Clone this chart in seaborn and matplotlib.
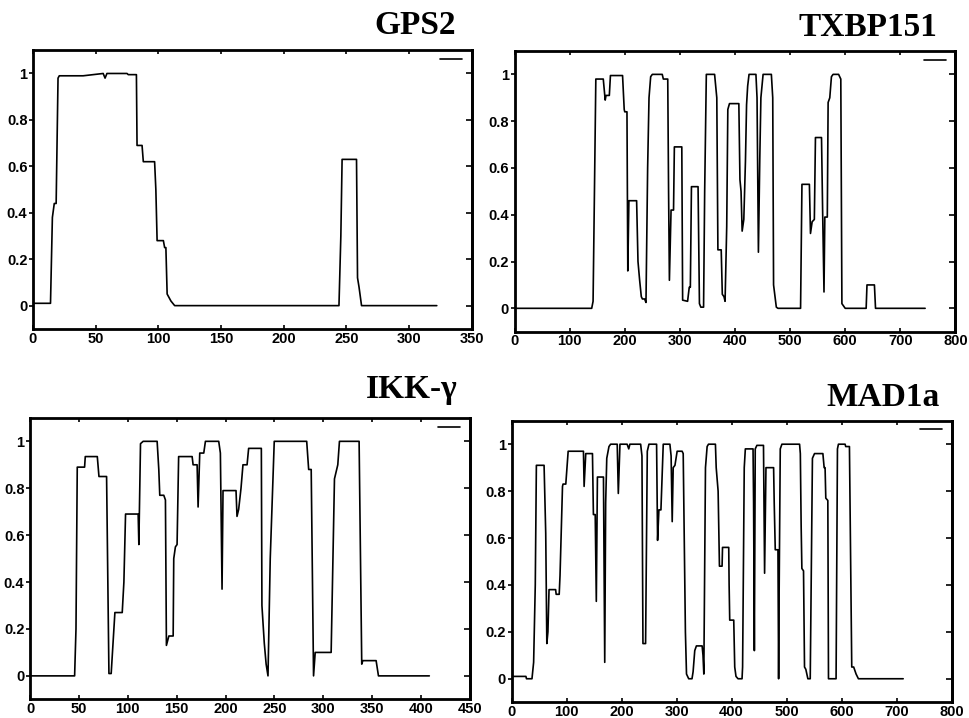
import matplotlib
matplotlib.use("Agg")
import matplotlib.pyplot as plt
import seaborn as sns
import pandas as pd

# coiled-coil probability traces, (residue, probability) vertices
gps2 = [(0, 0.01), (14, 0.01), (15.5, 0.38), (17, 0.44), (18.5, 0.44), (20, 0.98), (21, 0.99),
        (40, 0.99), (56, 1.0), (57.5, 0.98), (59, 1.0), (75, 1.0), (76, 0.995), (82.5, 0.995),
        (83, 0.69), (87, 0.69), (88, 0.62), (97, 0.62), (98, 0.5), (99, 0.28), (104, 0.28),
        (105, 0.25), (106, 0.25), (107, 0.05), (110, 0.02), (113, 0.0), (244, 0.0),
        (245.5, 0.3), (246.5, 0.63), (258, 0.63), (258.8, 0.12), (260, 0.08), (262, 0.0), (322, 0.0)]

txbp151 = [(0, 0), (140, 0), (142.5, 0.03), (145, 0.5), (147.5, 0.98), (161, 0.98), (164.5, 0.89),
           (166, 0.91), (172, 0.91), (174, 0.995), (196, 0.995), (199, 0.85), (200, 0.84), (204, 0.84),
           (205.5, 0.16), (207.5, 0.46), (221.5, 0.46), (224, 0.2), (227, 0.12), (230, 0.05), (232, 0.04),
           (236, 0.04), (238.5, 0.025), (241.5, 0.6), (244, 0.9), (247, 0.99), (250, 1.0), (268, 1.0),
           (270, 0.98), (278, 0.98), (279.5, 0.5), (281, 0.12), (284, 0.42), (288.5, 0.42), (290, 0.69),
           (303.5, 0.69), (305, 0.035), (314, 0.03), (317, 0.09), (319, 0.09), (321, 0.52), (333, 0.52),
           (335.5, 0.02), (338, 0.005), (343, 0.005), (345, 0.5), (348, 1.0), (363, 1.0), (367, 0.9),
           (369, 0.25), (375, 0.25), (377, 0.06), (380, 0.05), (382, 0.03), (385, 0.35), (387, 0.85),
           (390, 0.875), (407, 0.875), (409, 0.55), (411, 0.5), (413, 0.33), (416, 0.38), (419, 0.63),
           (421, 0.87), (423, 0.95), (425.5, 1.0), (438, 1.0), (440, 0.9), (442.5, 0.24), (445, 0.64),
           (447, 0.9), (451, 1.0), (466, 1.0), (468.5, 0.9), (470, 0.1), (475, 0.005), (478, 0),
           (519, 0), (521.5, 0.53), (535, 0.53), (537, 0.32), (540, 0.37), (544, 0.38), (546, 0.73),
           (557, 0.73), (559, 0.42), (561.5, 0.07), (563, 0.39), (567.5, 0.39), (569, 0.88), (572, 0.9),
           (575, 0.99), (578, 1.0), (588, 1.0), (592, 0.98), (594, 0.02), (600, 0), (638, 0),
           (639.5, 0.1), (653, 0.1), (655, 0), (745, 0)]

ikk_gamma = [(0, 0), (45.6, 0), (47, 0.2), (48.3, 0.89), (55.8, 0.89), (56.5, 0.935), (68.8, 0.935),
             (70.5, 0.85), (78.3, 0.85), (80.7, 0.01), (83, 0.01), (86.8, 0.27), (94.3, 0.27), (96, 0.4),
             (97.7, 0.69), (110.6, 0.69), (111.3, 0.56), (113, 0.99), (115.7, 1.0), (130, 1.0),
             (131.7, 0.88), (132.7, 0.77), (136.8, 0.77), (138.5, 0.75), (139.5, 0.13), (142, 0.17),
             (146.4, 0.17), (147, 0.5), (148.7, 0.55), (150.4, 0.56), (152, 0.935), (165.8, 0.935),
             (166.8, 0.9), (170.9, 0.9), (171.9, 0.72), (173.6, 0.95), (177.7, 0.95), (179.4, 1.0),
             (193, 1.0), (194.7, 0.95), (196.4, 0.37), (197.4, 0.79), (210.7, 0.79), (211.7, 0.68),
             (213.4, 0.71), (215.8, 0.8), (217.8, 0.9), (222, 0.9), (223.6, 0.97), (236.6, 0.97),
             (237.2, 0.3), (239.6, 0.14), (241.5, 0.05), (243.4, 0.0), (245.7, 0.5), (249.8, 1.0),
             (283, 1.0), (285, 0.88), (287.6, 0.88), (290, 0.0), (291.7, 0.1), (308, 0.1), (311.4, 0.84),
             (314.8, 0.9), (316.5, 1.0), (336.6, 1.0), (339.3, 0.05), (340.4, 0.065), (354, 0.065),
             (356.4, 0), (408.4, 0)]

mad1a = [(0, 0.01), (26, 0.01), (27, 0.0), (37, 0.0), (40, 0.07), (43, 0.4), (45, 0.91), (59, 0.91),
         (62, 0.62), (64, 0.15), (66, 0.2), (68, 0.38), (80, 0.38), (81, 0.36), (86.5, 0.36), (88, 0.44),
         (92.5, 0.82), (93.5, 0.83), (98.5, 0.83), (102.8, 0.97), (130.6, 0.97), (131.8, 0.82),
         (134.8, 0.96), (147, 0.96), (148.7, 0.7), (152, 0.7), (154, 0.33), (156, 0.86), (167, 0.86),
         (169.3, 0.07), (171, 0.75), (173, 0.94), (177, 0.99), (180, 1.0), (192, 1.0), (194, 0.79),
         (197, 1.0), (210, 1.0), (213, 0.98), (215, 1.0), (234.6, 1.0), (237, 0.95), (238.8, 0.15),
         (243.6, 0.15), (246.7, 0.97), (249.7, 1.0), (263.6, 1.0), (265.4, 0.59), (267.8, 0.72),
         (271.5, 0.72), (275.7, 1.0), (287.8, 1.0), (290, 0.95), (292, 0.67), (293.8, 0.9), (297, 0.91),
         (301, 0.97), (310, 0.97), (312, 0.96), (316, 0.2), (318, 0.02), (322, 0.0), (328, 0.0),
         (330, 0.03), (333, 0.12), (336, 0.14), (346.4, 0.14), (348, 0.1), (349.5, 0.02), (352.5, 0.9),
         (355.5, 0.99), (358, 1.0), (370.6, 1.0), (372, 0.9), (375.5, 0.8), (377.9, 0.48), (382.7, 0.48),
         (383.5, 0.56), (394.8, 0.56), (395.5, 0.4), (396.6, 0.25), (403.9, 0.25), (405.7, 0.05),
         (408, 0.01), (411.7, 0.0), (419, 0.0), (420, 0.05), (423, 0.9), (425, 0.98), (439, 0.98),
         (440, 0.75), (441.4, 0.12), (443, 0.98), (446, 0.995), (458, 0.995), (460, 0.45), (462.5, 0.9),
         (476.4, 0.9), (477.5, 0.75), (479.4, 0.55), (484.3, 0.55), (485.5, 0.0), (486.5, 0.38),
         (488.5, 0.98), (491.5, 1.0), (523.6, 1.0), (525, 0.96), (526.5, 0.65), (527.8, 0.47),
         (530.8, 0.46), (532.6, 0.05), (535, 0.04), (538.7, 0.0), (543, 0.0), (547, 0.94), (550.8, 0.96),
         (566, 0.96), (568.3, 0.9), (570, 0.9), (571.3, 0.77), (575, 0.76), (576.2, 0.0), (590, 0.0),
         (592.5, 0.98), (594.3, 1.0), (606.4, 1.0), (607.5, 0.99), (614.3, 0.99), (618.5, 0.05),
         (622, 0.05), (626.4, 0.02), (630.6, 0.0), (712, 0.0)]

names = ["GPS2", "TXBP151", "IKK-\u03b3", "MAD1a"]
traces = [gps2, txbp151, ikk_gamma, mad1a]
x_max = [350, 800, 450, 800]
x_step = [50, 100, 50, 100]
y_ticks = [0, 0.2, 0.4, 0.6, 0.8, 1]
y_labels = ["0", "0.2", "0.4", "0.6", "0.8", "1"]

sns.set_style("ticks")
plt.rcParams["font.family"] = ["Liberation Sans", "DejaVu Sans"]
plt.rcParams["text.color"] = "black"
plt.rcParams["xtick.color"] = "black"
plt.rcParams["ytick.color"] = "black"
plt.rcParams["axes.edgecolor"] = "black"

fig = plt.figure(figsize=(9.69, 7.18), dpi=100)

# axes boxes in figure fraction: left, bottom, width, height
boxes = [(0.034, 0.542, 0.453, 0.388),
         (0.531, 0.538, 0.455, 0.391),
         (0.031, 0.026, 0.454, 0.392),
         (0.528, 0.022, 0.454, 0.392)]
title_pos = [(0.470, 0.965), (0.967, 0.962), (0.472, 0.457), (0.970, 0.447)]

for name, trace, xm, xs, box, tp in zip(names, traces, x_max, x_step, boxes, title_pos):
    ax = fig.add_axes(box)
    df = pd.DataFrame(trace, columns=["residue", "prob"])
    sns.lineplot(data=df, x="residue", y="prob", sort=False, estimator=None,
                 color="black", linewidth=1.2, ax=ax, label=" ")
    ax.set_xlim(0, xm)
    ax.set_ylim(-0.1, 1.1)
    ax.set_xticks(range(0, xm + 1, xs))
    ax.set_yticks(y_ticks)
    ax.set_yticklabels(y_labels)
    ax.set_xlabel("")
    ax.set_ylabel("")
    for sp in ax.spines.values():
        sp.set_visible(True)
        sp.set_linewidth(2)
    ax.tick_params(axis="x", which="major", labelsize=10.5, length=3, width=1.2,
                   direction="in", pad=2, top=True, labeltop=False)
    ax.tick_params(axis="y", which="major", labelsize=10.5, length=3, width=1.2,
                   direction="out", pad=1, right=False)
    for lab in ax.get_xticklabels() + ax.get_yticklabels():
        lab.set_fontweight("bold")

    # inward tick marks on the right-hand side
    rax = ax.twinx()
    rax.set_ylim(ax.get_ylim())
    rax.set_yticks(y_ticks)
    rax.tick_params(axis="y", direction="in", length=4, width=1.2, labelright=False)
    rax.spines["right"].set_linewidth(2)

    ax.legend(loc="upper right", frameon=False, handlelength=2.6, handletextpad=0.2,
              borderaxespad=0.3, fontsize=6)
    fig.text(tp[0], tp[1], name, ha="right", va="center", fontsize=24,
             fontweight="bold", family=["Liberation Serif", "DejaVu Serif"])

fig.savefig("out.png", dpi=100)
